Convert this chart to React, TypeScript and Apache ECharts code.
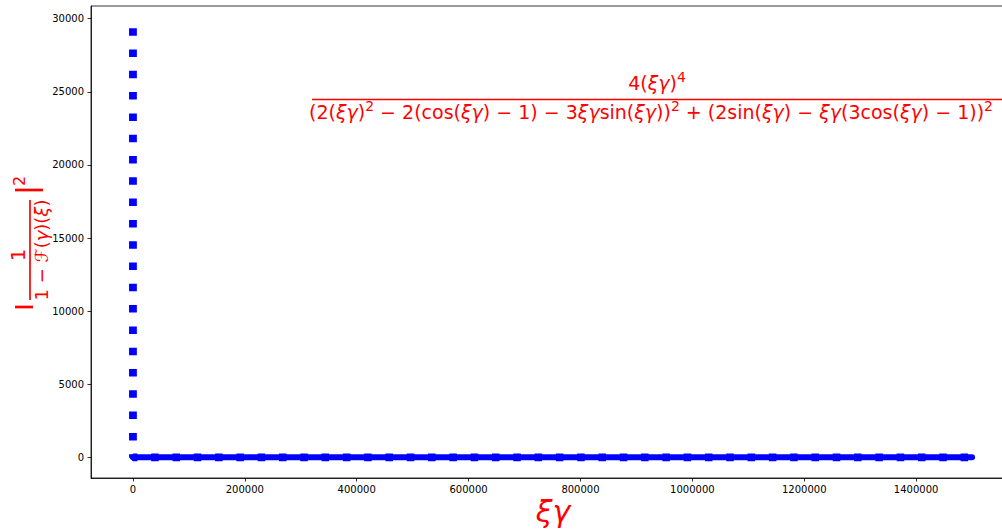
import React, { useEffect, useRef } from "react";
import * as echarts from "echarts";

// Data
const xValues = [0, 1, 250000, 500000, 750000, 1000000, 1250000, 1500000];
const yValues = [29350, 1, 1, 1, 1, 1, 1, 1];
const xTicks = [0, 200000, 400000, 600000, 800000, 1000000, 1200000, 1400000];
const yTicks = [0, 5000, 10000, 15000, 20000, 25000, 30000];

const FONT = "DejaVu Sans";
const RED = "#ff0000";
const BLUE = "#0000ff";

export default function App() {
  const ref = useRef<HTMLDivElement>(null);
  useEffect(() => {
    if (!ref.current) return;
    document.body.style.overflow = "hidden";
    const chart = echarts.init(ref.current, undefined, { renderer: "svg" });
    const all = xValues.map((x, i) => [x, yValues[i]]);
    const rest = all.slice(1);
    const richBase = {
      n: { fontSize: 19, fontFamily: FONT, color: RED },
      i: { fontSize: 19, fontFamily: FONT, color: RED, fontStyle: "italic" },
      s: { fontSize: 14, fontFamily: FONT, color: RED, padding: [0, 0, 13, 0] },
    };
    const richLab = {
      n: { fontSize: 18, fontFamily: FONT, color: RED },
      i: { fontSize: 18, fontFamily: FONT, color: RED, fontStyle: "italic" },
    };
    const numer = "{n|4(}{i|ξγ}{n|)}{s|4}";
    const denom =
      "{n|(2(}{i|ξγ}{n|)}{s|2}{n| − 2(cos(}{i|ξγ}{n|) − 1) − 3}{i|ξγ}{n|sin(}{i|ξγ}{n|))}{s|2}" +
      "{n| + (2sin(}{i|ξγ}{n|) − }{i|ξγ}{n|(3cos(}{i|ξγ}{n|) − 1))}{s|2}";
    const plain = (v: number) => String(v);
    const axisCommon = {
      type: "value" as const,
      axisLine: { show: true, onZero: false, lineStyle: { color: "#000", width: 0.8 } },
      splitLine: { show: false },
    };
    chart.setOption({
      animation: false,
      backgroundColor: "#ffffff",
      grid: {
        left: 91,
        right: 0,
        top: 6,
        bottom: 51,
        show: true,
        borderColor: "#000",
        borderWidth: 0.8,
        containLabel: false,
      },
      xAxis: {
        ...axisCommon,
        min: -75000,
        max: 1575000,
        axisTick: { show: true, length: 3.5, inside: false, customValues: xTicks, lineStyle: { color: "#000", width: 0.8 } },
        axisLabel: { customValues: xTicks, formatter: plain, fontSize: 10, color: "#000", fontFamily: FONT, margin: 6 },
      },
      yAxis: {
        ...axisCommon,
        min: -1416,
        max: 30869,
        axisTick: { show: true, length: 3.5, inside: false, customValues: yTicks, lineStyle: { color: "#000", width: 0.8 } },
        axisLabel: { customValues: yTicks, formatter: plain, fontSize: 10, color: "#000", fontFamily: FONT, margin: 7 },
      },
      series: [
        {
          type: "line",
          data: rest,
          showSymbol: false,
          symbol: "none",
          lineStyle: { color: BLUE, width: 6, cap: "round", join: "round" },
        },
        {
          type: "line",
          data: all,
          showSymbol: false,
          symbol: "none",
          lineStyle: { color: BLUE, width: 7.8, type: [7.5, 13.8], cap: "butt" },
        },
      ],
      graphic: [
        {
          type: "line",
          shape: { x1: 312, y1: 99.5, x2: 1014, y2: 99.5 },
          style: { stroke: RED, lineWidth: 1.6 },
        },
        {
          type: "text",
          x: 657,
          y: 83,
          style: { text: numer, rich: richBase, align: "center", verticalAlign: "middle", fill: RED },
        },
        {
          type: "text",
          x: 651,
          y: 112,
          style: { text: denom, rich: richBase, align: "center", verticalAlign: "middle", fill: RED },
        },
        {
          type: "text",
          x: 553,
          y: 511,
          style: {
            text: "ξγ",
            fontSize: 30,
            fontStyle: "italic",
            fontFamily: FONT,
            fill: RED,
            align: "center",
            verticalAlign: "middle",
          },
        },
        {
          type: "group",
          x: 30,
          y: 250,
          rotation: Math.PI / 2,
          children: [
            { type: "line", shape: { x1: -50, y1: 0, x2: 50, y2: 0 }, style: { stroke: RED, lineWidth: 1.7 } },
            {
              type: "text",
              x: -5,
              y: -12,
              style: { text: "1", fontSize: 20, fontFamily: FONT, fill: RED, align: "center", verticalAlign: "middle" },
            },
            {
              type: "text",
              x: 0,
              y: 11,
              style: {
                text: "{n|1 − ℱ(}{i|γ}{n|)(}{i|ξ}{n|)}",
                rich: richLab,
                align: "center",
                verticalAlign: "middle",
                fill: RED,
              },
            },
            { type: "line", shape: { x1: 60, y1: -15, x2: 60, y2: 13 }, style: { stroke: RED, lineWidth: 2.7 } },
            { type: "line", shape: { x1: -57, y1: -15, x2: -57, y2: 3 }, style: { stroke: RED, lineWidth: 2.7 } },
            {
              type: "text",
              x: 69,
              y: -11,
              style: { text: "2", fontSize: 16, fontFamily: FONT, fill: RED, align: "center", verticalAlign: "middle" },
            },
          ],
        },
      ],
    });
    return () => chart.dispose();
  }, []);
  return (
    <div
      ref={ref}
      style={{ position: "fixed", left: 0, top: 0, width: 1014, height: 529, background: "#fff" }}
    />
  );
}
